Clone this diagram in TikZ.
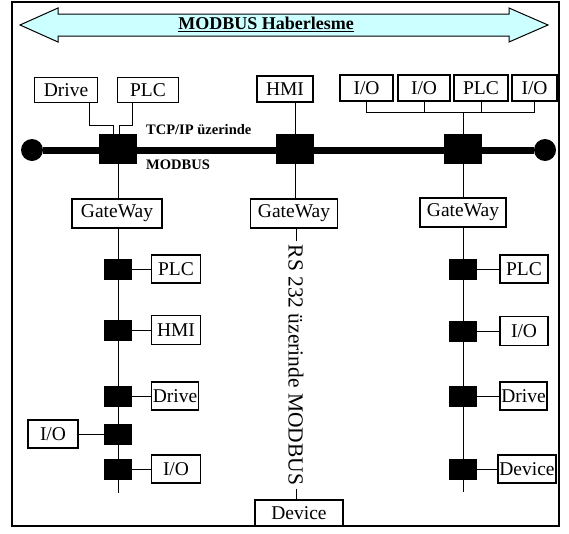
\documentclass[tikz,border=0pt]{standalone}
\usepackage{fontspec}
\setmainfont{Liberation Serif}
\definecolor{arrowfill}{HTML}{CCFFFF}
\begin{document}
\begin{tikzpicture}[x=1pt,y=-1pt,
    dev/.style={draw,line width=1.1pt,inner sep=0pt,minimum height=29pt,font=\fontsize{19.5}{20}\selectfont},
    tap/.style={fill=black,inner sep=0pt,minimum width=28pt,minimum height=21pt},
    bigtap/.style={fill=black,inner sep=0pt,minimum width=38pt,minimum height=30pt},
    busend/.style={circle,fill=black,inner sep=0pt,minimum size=22pt},
    lbl/.style={font=\fontsize{14.5}{16}\selectfont\bfseries,anchor=west,inner sep=0pt},
    conn/.style={line width=1pt}]
    \useasboundingbox (0,0) rectangle (569,533);
    \draw[line width=1.5pt] (12,2) rectangle (559,526);
    % banner
    \draw[line width=1pt,fill=arrowfill] (20,25) -- (58,8) -- (58,14) -- (509,14) -- (509,8) -- (548,25) -- (509,42) -- (509,36) -- (58,36) -- (58,42) -- cycle;
    \node[font=\fontsize{18}{19}\selectfont\bfseries] (title) at (266,24.5) {\underline{MODBUS Haberlesme}};
    % top row
    \node[dev,minimum width=63pt,minimum height=25pt] (drv0) at (66,90) {Drive};
    \node[dev,minimum width=61pt,minimum height=25pt] (plc0) at (148,90) {PLC};
    \node[dev,minimum width=56pt,minimum height=26pt] (hmi0) at (285,89) {HMI};
    \node[dev,minimum width=53pt,minimum height=26pt] (io0) at (366.5,88) {I/O};
    \node[dev,minimum width=52pt,minimum height=26pt] (io1) at (424,88) {I/O};
    \node[dev,minimum width=54pt,minimum height=26pt] (plc1) at (481,88) {PLC};
    \node[dev,minimum width=45pt,minimum height=26pt] (io2) at (534.5,88) {I/O};
    % TCP/IP bus
    \node[busend] (endL) at (32,150) {};
    \node[busend] (endR) at (545,150) {};
    \draw[line width=7pt] (endL) -- (endR);
    \node[bigtap] (bus0) at (118,149) {};
    \node[bigtap] (bus1) at (295,149) {};
    \node[bigtap] (bus2) at (463,149) {};
    \node[lbl] (tcp) at (146,129.5) {TCP/IP üzerinde};
    \node[lbl] (mb) at (146,165) {MODBUS};
    \draw[conn] ([xshift=23pt]drv0.south) -- ++(0,22) -| ([xshift=-5pt]bus0.north);
    \draw[conn] ([xshift=-16pt]plc0.south) -- ++(0,22) -| ([xshift=1.5pt]bus0.north);
    \draw[conn] (bus1.north |- hmi0.south) -- (bus1.north);
    \draw[conn] (io0.south) -- ++(0,11) -| (io2.south);
    \draw[conn] (io1.south) -- ++(0,11);
    \draw[conn] (plc1.south) -- ++(0,11);
    \draw[conn] (bus2.north |- 0,112) -- (bus2.north);
    % gateways
    \node[dev,minimum width=90pt] (gw0) at (117,213.5) {GateWay};
    \node[dev,minimum width=87pt] (gw1) at (294,213.5) {GateWay};
    \node[dev,minimum width=86pt] (gw2) at (463,212.5) {GateWay};
    \draw[conn] (bus0) -- (gw0.north -| bus0);
    \draw[conn] (bus1) -- (gw1.north -| bus1);
    \draw[conn] (bus2) -- (gw2);
    % left line
    \coordinate (end0) at (118,493);
    \draw[conn] (gw0.south -| end0) -- (end0);
    \node[tap] (t01) at (118,269) {};
    \node[tap] (t02) at (118,330) {};
    \node[tap] (t03) at (118,396) {};
    \node[tap] (t04) at (118,434) {};
    \node[tap] (t05) at (118,469) {};
    \node[dev,minimum width=49pt,minimum height=28pt] (plc3) at (176,269) {PLC};
    \node[dev,minimum width=49pt] (hmi3) at (176,330) {HMI};
    \node[dev,minimum width=47pt,minimum height=28pt] (drv3) at (175,396) {Drive};
    \node[dev,minimum width=50pt,minimum height=28pt] (io30) at (53,434) {I/O};
    \node[dev,minimum width=49pt,minimum height=28pt] (io31) at (176,469) {I/O};
    \draw[conn] (t01) -- (plc3);
    \draw[conn] (t02) -- (hmi3);
    \draw[conn] (t03) -- (drv3);
    \draw[conn] (t04) -- (io30);
    \draw[conn] (t05) -- (io31);
    % middle RS 232 line
    \node[rotate=-90,inner xsep=3pt,inner ysep=0pt,font=\fontsize{21.5}{22}\selectfont] (rs) at (296,365) {RS 232 üzerinde MODBUS};
    \node[dev,minimum width=88pt,minimum height=26pt] (dev9) at (299,513) {Device};
    \draw[conn] (gw1.south -| rs) -- (rs);
    \draw[conn] (rs) -- (rs |- dev9.north);
    % right line
    \coordinate (end2) at (463,492);
    \draw[conn] (gw2) -- (end2);
    \node[tap] (t21) at (463,269) {};
    \node[tap] (t22) at (463,331) {};
    \node[tap] (t23) at (463,396) {};
    \node[tap] (t24) at (463,469) {};
    \node[dev,minimum width=48pt,minimum height=28pt] (plc5) at (524,269) {PLC};
    \node[dev,minimum width=48pt] (io5) at (524,331) {I/O};
    \node[dev,minimum width=47pt,minimum height=28pt] (drv5) at (523.5,396) {Drive};
    \node[dev,minimum width=58pt,minimum height=28pt] (dev5) at (527,469) {Device};
    \draw[conn] (t21) -- (plc5);
    \draw[conn] (t22) -- (io5);
    \draw[conn] (t23) -- (drv5);
    \draw[conn] (t24) -- (dev5);
\end{tikzpicture}
\end{document}
